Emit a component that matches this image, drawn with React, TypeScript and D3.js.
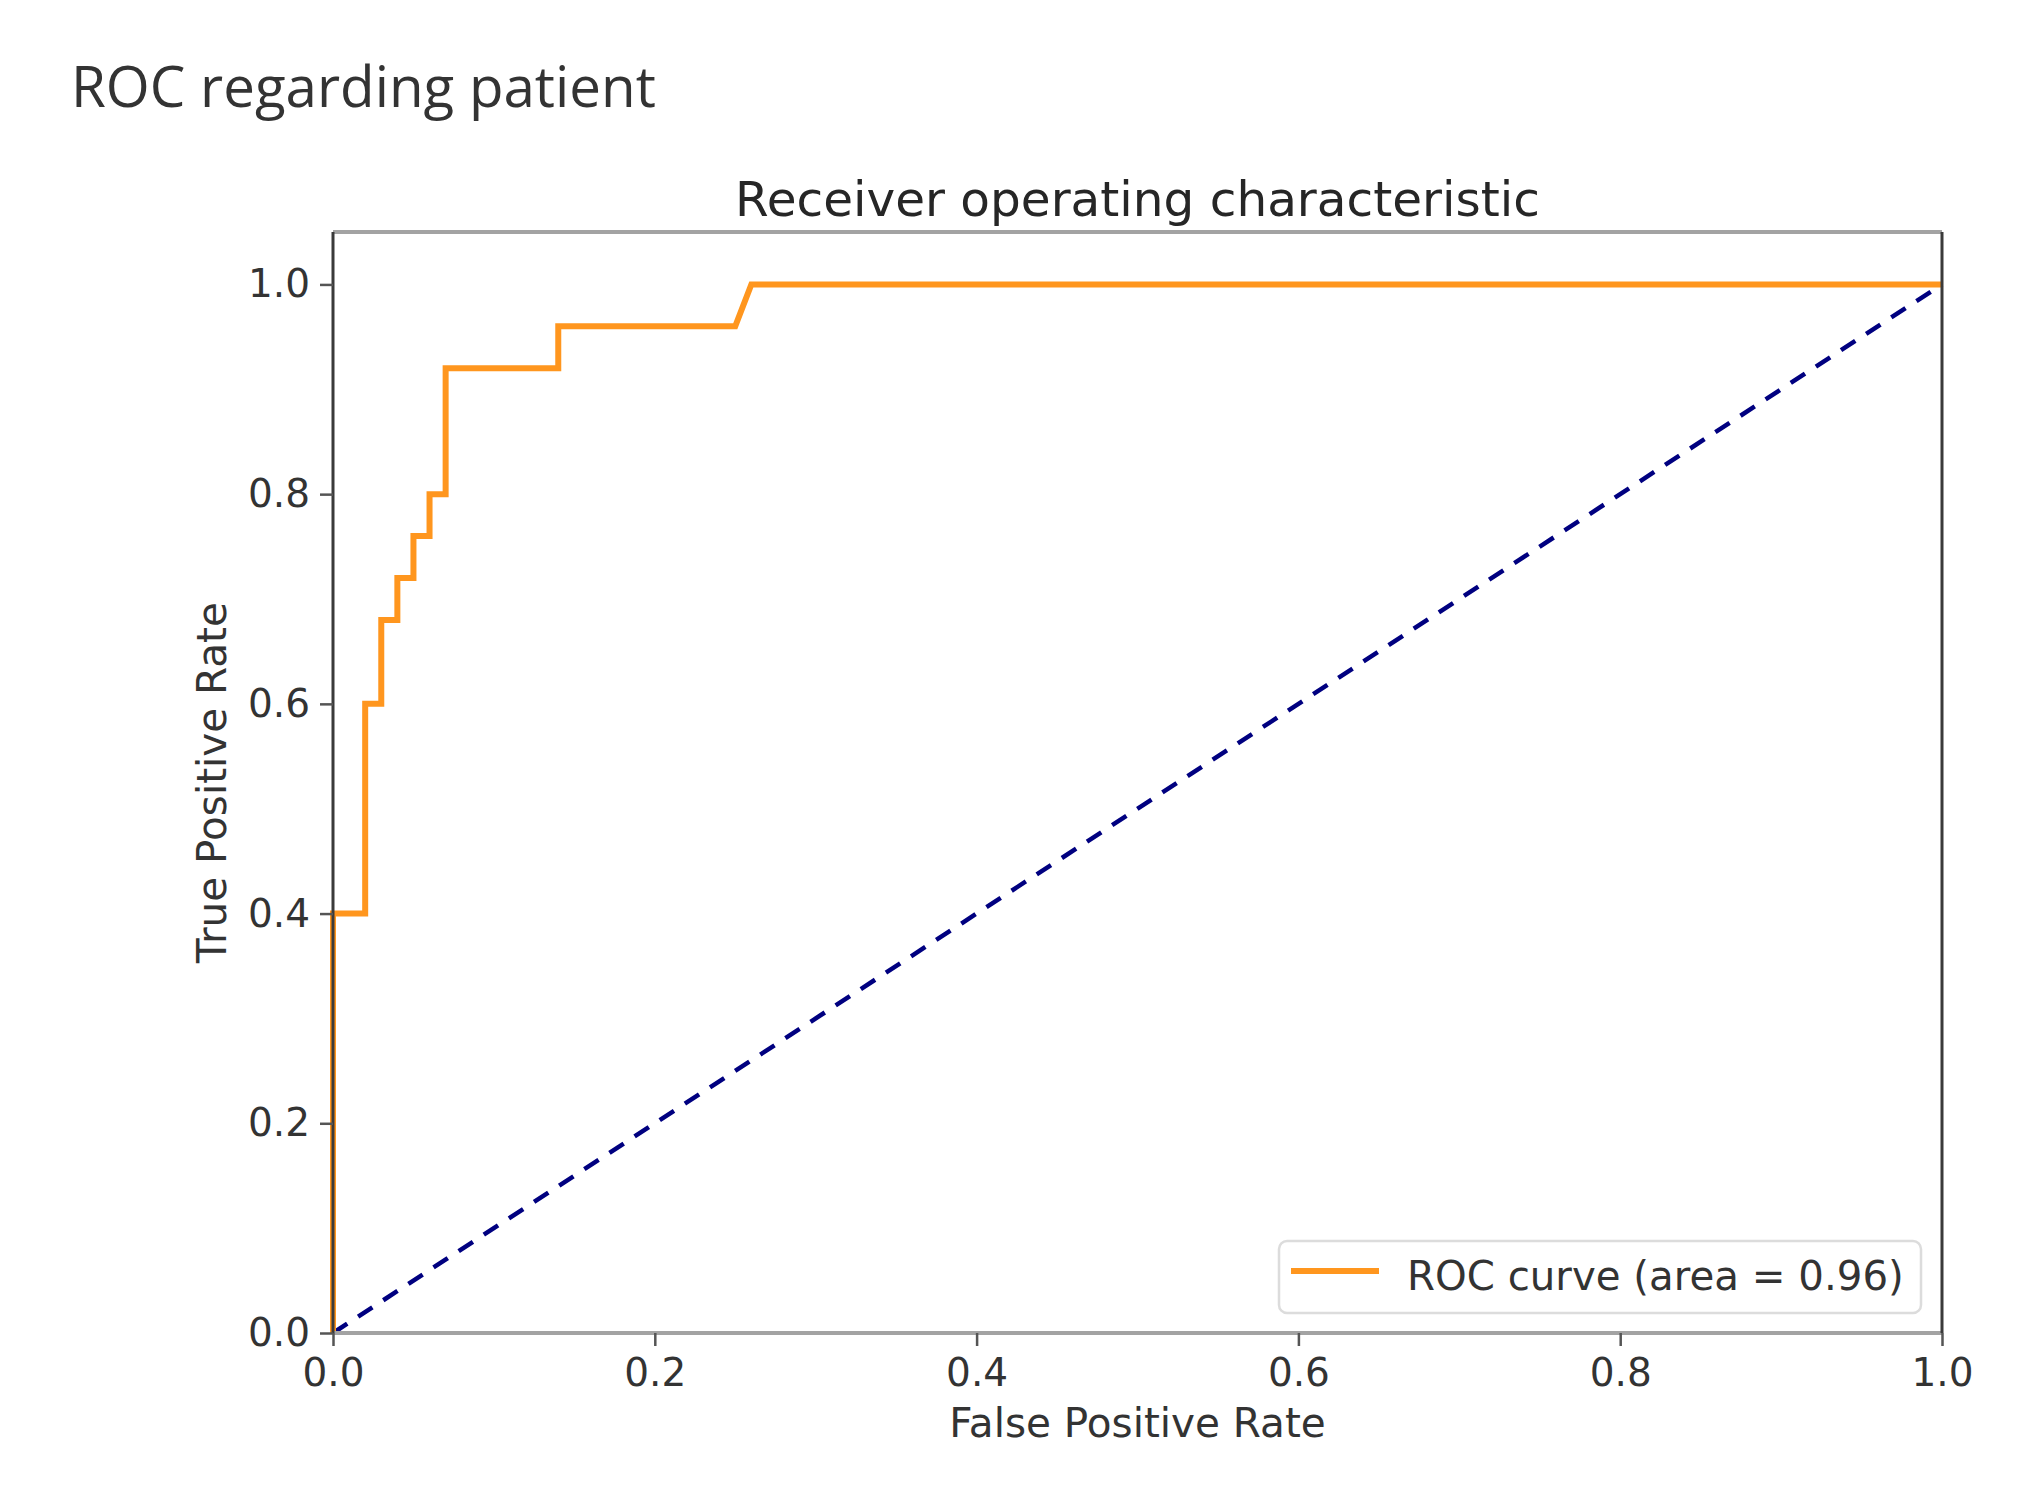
import React, { useEffect, useRef } from 'react';
import * as d3 from 'd3';

// ROC curve values
const fpr = [0, 0, 0.02, 0.02, 0.03, 0.03, 0.04, 0.04, 0.05, 0.05, 0.06, 0.06, 0.07, 0.07, 0.14, 0.14, 0.25, 0.26, 1.0];
const tpr = [0, 0.4, 0.4, 0.6, 0.6, 0.68, 0.68, 0.72, 0.72, 0.76, 0.76, 0.8, 0.8, 0.92, 0.92, 0.96, 0.96, 1.0, 1.0];
const chanceLine = [0, 1];
const xTicks = [0, 0.2, 0.4, 0.6, 0.8, 1.0];
const yTicks = [0, 0.2, 0.4, 0.6, 0.8, 1.0];
const legendLabel = 'ROC curve (area = 0.96)';

const W = 2026;
const H = 1488;
const FONT = '"DejaVu Sans", sans-serif';

export default function App() {
  const svgRef = useRef<SVGSVGElement>(null);

  useEffect(() => {
    if (!svgRef.current) return;
    const svg = d3.select(svgRef.current);
    svg.selectAll('*').remove();

    const margin = { top: 232, right: W - 1942, bottom: H - 1333, left: 333 };
    const width = W - margin.left - margin.right;
    const height = H - margin.top - margin.bottom;

    svg.append('rect').attr('width', W).attr('height', H).attr('fill', '#fff');

    // page heading
    svg.append('text')
      .attr('x', 71).attr('y', 107)
      .attr('font-family', '"Open Sans", sans-serif')
      .attr('font-size', 56.5)
      .attr('fill', '#333')
      .text('ROC regarding patient');

    const g = svg.append('g').attr('transform', `translate(${margin.left},${margin.top})`);

    const x = d3.scaleLinear().domain([0, 1]).range([0, width]);
    const y = d3.scaleLinear().domain([0, 1.05]).range([height, 0]);

    // chance diagonal
    g.append('line')
      .attr('x1', x(chanceLine[0])).attr('y1', y(chanceLine[0]))
      .attr('x2', x(chanceLine[1])).attr('y2', y(chanceLine[1]))
      .attr('stroke', '#000080')
      .attr('stroke-width', 4.5)
      .attr('stroke-dasharray', '17 13');

    // roc curve
    const line = d3.line<number>()
      .x((_, i) => x(fpr[i]))
      .y(d => y(d));
    g.append('path')
      .datum(tpr)
      .attr('d', line)
      .attr('fill', 'none')
      .attr('stroke', '#ff961e')
      .attr('stroke-width', 6)
      .attr('stroke-linejoin', 'miter');

    // spines
    g.append('line').attr('x1', 0).attr('x2', width).attr('y1', 0).attr('y2', 0)
      .attr('stroke', '#a3a3a3').attr('stroke-width', 4);
    g.append('line').attr('x1', 0).attr('x2', width).attr('y1', height).attr('y2', height)
      .attr('stroke', '#a3a3a3').attr('stroke-width', 4);
    g.append('line').attr('x1', 0).attr('x2', 0).attr('y1', 0).attr('y2', height)
      .attr('stroke', '#3a3a3a').attr('stroke-width', 3);
    g.append('line').attr('x1', width).attr('x2', width).attr('y1', 0).attr('y2', height)
      .attr('stroke', '#3a3a3a').attr('stroke-width', 3);

    // axes
    const xAxis = g.append('g')
      .attr('transform', `translate(0,${height})`)
      .call(d3.axisBottom(x).tickValues(xTicks).tickFormat(d3.format('.1f')).tickSize(13).tickPadding(12));
    const yAxis = g.append('g')
      .call(d3.axisLeft(y).tickValues(yTicks).tickFormat(d3.format('.1f')).tickSize(13).tickPadding(10));
    [xAxis, yAxis].forEach(a => {
      a.select('.domain').remove();
      a.selectAll('.tick line').attr('stroke', '#555').attr('stroke-width', 2.5);
      a.selectAll('.tick text')
        .attr('font-family', FONT)
        .attr('font-size', 39)
        .attr('fill', '#333');
    });

    // titles
    g.append('text')
      .attr('x', width / 2).attr('y', -16)
      .attr('text-anchor', 'middle')
      .attr('font-family', FONT).attr('font-size', 48.5)
      .attr('fill', '#262626')
      .text('Receiver operating characteristic');

    g.append('text')
      .attr('x', width / 2).attr('y', height + 104)
      .attr('text-anchor', 'middle')
      .attr('font-family', FONT).attr('font-size', 40.5)
      .attr('fill', '#333')
      .text('False Positive Rate');

    g.append('text')
      .attr('transform', `translate(${226 - margin.left},${height / 2}) rotate(-90)`)
      .attr('text-anchor', 'middle')
      .attr('font-family', FONT).attr('font-size', 40.5)
      .attr('fill', '#333')
      .text('True Positive Rate');

    // legend
    const lg = svg.append('g');
    lg.append('rect')
      .attr('x', 1279).attr('y', 1241).attr('width', 642).attr('height', 72)
      .attr('rx', 8)
      .attr('fill', '#fff').attr('fill-opacity', 0.8)
      .attr('stroke', '#dcdcdc').attr('stroke-width', 2.5);
    lg.append('line')
      .attr('x1', 1291).attr('x2', 1379).attr('y1', 1271).attr('y2', 1271)
      .attr('stroke', '#ff961e').attr('stroke-width', 6);
    lg.append('text')
      .attr('x', 1407).attr('y', 1290)
      .attr('font-family', FONT).attr('font-size', 40.3)
      .attr('fill', '#333')
      .text(legendLabel);
  }, []);

  return (
    <div style={{ position: 'absolute', left: 0, top: 0, width: W, height: H }}>
      <svg ref={svgRef} width={W} height={H} />
    </div>
  );
}
